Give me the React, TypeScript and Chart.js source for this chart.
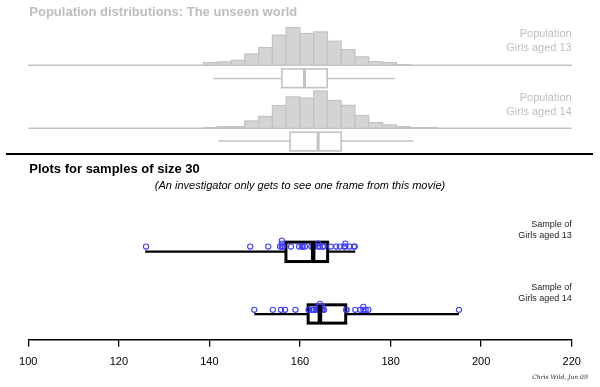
import { useEffect, useRef } from "react";
import { Chart, registerables } from "chart.js";
Chart.register(...registerables);

// ---- data ----
const X_TICKS = [100, 120, 140, 160, 180, 200, 220];
const BIN_START = 138.7;
const BIN_WIDTH = 3.04;
// population histograms (percent of population per bin)
const POP13_PCT = [1.2, 1.5, 2.2, 5.0, 7.8, 13.3, 16.6, 14.0, 14.7, 10.6, 6.9, 3.7, 1.6, 1.2, 0.3];
const POP14_PCT = [0.3, 0.7, 0.7, 3.2, 5.2, 10.0, 13.8, 13.3, 16.4, 12.2, 10.1, 5.6, 2.5, 1.5, 0.7, 0.3, 0.3];
// five-number summaries [min, q1, median, q3, max]
const POP13_BOX = [140.9, 156.0, 161.0, 166.0, 181.0];
const POP14_BOX = [142.0, 157.8, 164.0, 169.1, 185.0];
const SAMPLE13_BOX = [125.8, 156.9, 162.9, 166.1, 172.2];
const SAMPLE14_BOX = [149.9, 161.8, 164.4, 170.1, 195.1];
// samples of size 30 (heights, cm)
const SAMPLE13 = [126.0, 149.0, 153.0, 155.6, 156.0, 156.0, 156.0, 156.2, 158.0, 159.8, 160.4, 160.6, 161.1, 162.5,
  162.9, 163.2, 164.0, 164.0, 164.4, 165.0, 165.2, 166.8, 168.0, 168.8, 169.8, 170.0, 170.0, 171.0, 171.9, 172.1];
const SAMPLE14 = [149.9, 154.0, 155.8, 156.7, 159.0, 161.9, 162.0, 162.6, 162.9, 163.0, 163.5, 164.0, 164.0, 164.2,
  164.4, 164.4, 164.4, 164.8, 165.0, 165.0, 165.3, 170.2, 170.3, 172.2, 173.3, 174.0, 174.0, 174.5, 175.1, 195.1];

// ---- layout (y units measured down from the top of the plot) ----
const HIST_SCALE = 2.27;
const STACK_STEP = 3;
const ROWS = {
  pop13: { base: 65.3, top: 69, bottom: 87.7, mid: 78.6 },
  pop14: { base: 128.3, top: 132.3, bottom: 151, mid: 141.2 },
  s13: { points: 246.7, top: 242.3, bottom: 261.7, mid: 251.8 },
  s14: { points: 310, top: 305, bottom: 323.3, mid: 314.3 },
};

const GREY_FILL = "#d4d4d4";
const GREY_LINE = "#c2c2c2";
const GREY_TEXT = "#bdbdbd";
const BLUE = "rgb(60,60,255)";
const FONT = "'Liberation Sans', Arial, sans-serif";

function stacked(values: number[], baseY: number) {
  const seen: Record<string, number> = {};
  return values.map((v) => {
    const k = v.toFixed(1);
    const n = seen[k] || 0;
    seen[k] = n + 1;
    return { x: v, y: baseY - n * STACK_STEP };
  });
}

const drawPlugin = {
  id: "customDraw",
  beforeDatasetsDraw(chart: any) {
    const { ctx } = chart;
    const xs = chart.scales.x;
    const ys = chart.scales.y;
    const X = (v: number) => xs.getPixelForValue(v);
    const Y = (v: number) => ys.getPixelForValue(v);
    ctx.save();

    const hist = (pct: number[], base: number) => {
      ctx.lineWidth = 1.5;
      ctx.strokeStyle = GREY_LINE;
      ctx.beginPath();
      ctx.moveTo(X(X_TICKS[0]), Y(base));
      ctx.lineTo(X(X_TICKS[X_TICKS.length - 1]), Y(base));
      ctx.stroke();
      pct.forEach((p, i) => {
        const l = X(BIN_START + i * BIN_WIDTH);
        const r = X(BIN_START + (i + 1) * BIN_WIDTH);
        const t = Y(base - p * HIST_SCALE);
        const b = Y(base);
        ctx.fillStyle = GREY_FILL;
        ctx.fillRect(l, t, r - l, b - t);
        ctx.lineWidth = 1.2;
        ctx.strokeStyle = GREY_LINE;
        ctx.strokeRect(l, t, r - l, b - t);
      });
    };

    const box = (s: number[], row: any, color: string, lw: number, mlw: number, wlw: number, median: boolean) => {
      ctx.strokeStyle = color;
      ctx.lineWidth = wlw;
      ctx.beginPath();
      ctx.moveTo(X(s[0]), Y(row.mid));
      ctx.lineTo(X(s[4]), Y(row.mid));
      ctx.stroke();
      const l = X(s[1]), r = X(s[3]), t = Y(row.top), b = Y(row.bottom);
      ctx.fillStyle = "#fff";
      ctx.fillRect(l, t, r - l, b - t);
      ctx.lineWidth = lw;
      ctx.strokeRect(l, t, r - l, b - t);
      if (median) {
        ctx.lineWidth = mlw;
        ctx.beginPath();
        ctx.moveTo(X(s[2]), t);
        ctx.lineTo(X(s[2]), b);
        ctx.stroke();
      }
    };

    hist(POP13_PCT, ROWS.pop13.base);
    box(POP13_BOX, ROWS.pop13, GREY_LINE, 1.6, 3, 1.5, true);
    hist(POP14_PCT, ROWS.pop14.base);
    box(POP14_BOX, ROWS.pop14, GREY_LINE, 1.6, 3, 1.5, true);
    box(SAMPLE13_BOX, ROWS.s13, "#000", 3, 4, 2.4, false);
    box(SAMPLE14_BOX, ROWS.s14, "#000", 3, 4, 2.4, false);
    ctx.restore();
  },
  afterDatasetsDraw(chart: any) {
    const { ctx } = chart;
    const X = (v: number) => chart.scales.x.getPixelForValue(v);
    const Y = (v: number) => chart.scales.y.getPixelForValue(v);
    ctx.save();
    ctx.strokeStyle = "#000";
    ctx.lineWidth = 4.5;
    [[SAMPLE13_BOX, ROWS.s13], [SAMPLE14_BOX, ROWS.s14]].forEach(([s, row]: any) => {
      ctx.beginPath();
      ctx.moveTo(X(s[2]), Y(row.top));
      ctx.lineTo(X(s[2]), Y(row.bottom));
      ctx.stroke();
    });
    ctx.restore();
  },
  afterDraw(chart: any) {
    const { ctx } = chart;
    const right = chart.chartArea.right;
    const left = chart.chartArea.left;
    ctx.save();
    ctx.textBaseline = "middle";

    ctx.fillStyle = GREY_TEXT;
    ctx.textAlign = "left";
    ctx.font = `bold 13px ${FONT}`;
    ctx.fillText("Population distributions: The unseen world", left + 1, 12);

    ctx.textAlign = "right";
    ctx.font = `11px ${FONT}`;
    ctx.fillText("Population", right, 34.3);
    ctx.fillText("Girls aged 13", right, 48.3);
    ctx.fillText("Population", right, 97.7);
    ctx.fillText("Girls aged 14", right, 111.5);

    ctx.strokeStyle = "#000";
    ctx.lineWidth = 2;
    ctx.beginPath();
    ctx.moveTo(6, 154);
    ctx.lineTo(593, 154);
    ctx.stroke();

    ctx.fillStyle = "#000";
    ctx.textAlign = "left";
    ctx.font = `bold 13px ${FONT}`;
    ctx.fillText("Plots for samples of size 30", left + 1, 169.5);

    ctx.textAlign = "center";
    ctx.font = `italic 11px ${FONT}`;
    ctx.fillText("(An investigator only gets to see one frame from this movie)", 300, 185.7);

    ctx.fillStyle = "#222";
    ctx.textAlign = "right";
    ctx.font = `9px ${FONT}`;
    ctx.fillText("Sample of", right, 225);
    ctx.fillText("Girls aged 13", right, 235.5);
    ctx.fillText("Sample of", right, 287.5);
    ctx.fillText("Girls aged 14", right, 298.3);

    ctx.textAlign = "center";
    ctx.font = `italic 6px 'DejaVu Serif', serif`;
    ctx.fillText("Chris Wild, Jun 09", 560, 377);
    ctx.restore();
  },
};

export default function App() {
  const ref = useRef<HTMLCanvasElement | null>(null);
  useEffect(() => {
    document.body.style.margin = "0";
    if (!ref.current) return;
    const pointDs = (vals: number[], y: number) => ({
      data: stacked(vals, y),
      showLine: false,
      pointStyle: "circle",
      pointRadius: 2.6,
      pointBorderWidth: 1.1,
      pointBorderColor: BLUE,
      pointBackgroundColor: "rgba(0,0,0,0)",
      clip: false as any,
    });
    const chart = new Chart(ref.current, {
      type: "scatter",
      data: {
        datasets: [pointDs(SAMPLE13, ROWS.s13.points), pointDs(SAMPLE14, ROWS.s14.points)] as any,
      },
      options: {
        animation: false,
        responsive: false,
        events: [],
        layout: { autoPadding: false, padding: { left: 28.3, right: 28.3, top: 0, bottom: 9 } },
        plugins: { legend: { display: false }, tooltip: { enabled: false }, title: { display: false } },
        scales: {
          x: {
            type: "linear",
            min: X_TICKS[0],
            max: X_TICKS[X_TICKS.length - 1],
            afterBuildTicks: (axis: any) => {
              axis.ticks = X_TICKS.map((v) => ({ value: v }));
            },
            grid: { drawOnChartArea: false, drawTicks: true, tickLength: 7, color: "#000", lineWidth: 1.3 },
            border: { display: true, color: "#000", width: 1.5 },
            ticks: { color: "#000", font: { family: FONT, size: 11 }, padding: 9, maxRotation: 0, autoSkip: false },
          },
          y: { type: "linear", display: false, reverse: true, min: 0, max: 340 },
        },
      },
      plugins: [drawPlugin],
    } as any);
    return () => chart.destroy();
  }, []);
  return (
    <div style={{ width: 600, height: 387 }}>
      <canvas ref={ref} width={600} height={387} style={{ width: 600, height: 387, display: "block" }} />
    </div>
  );
}
